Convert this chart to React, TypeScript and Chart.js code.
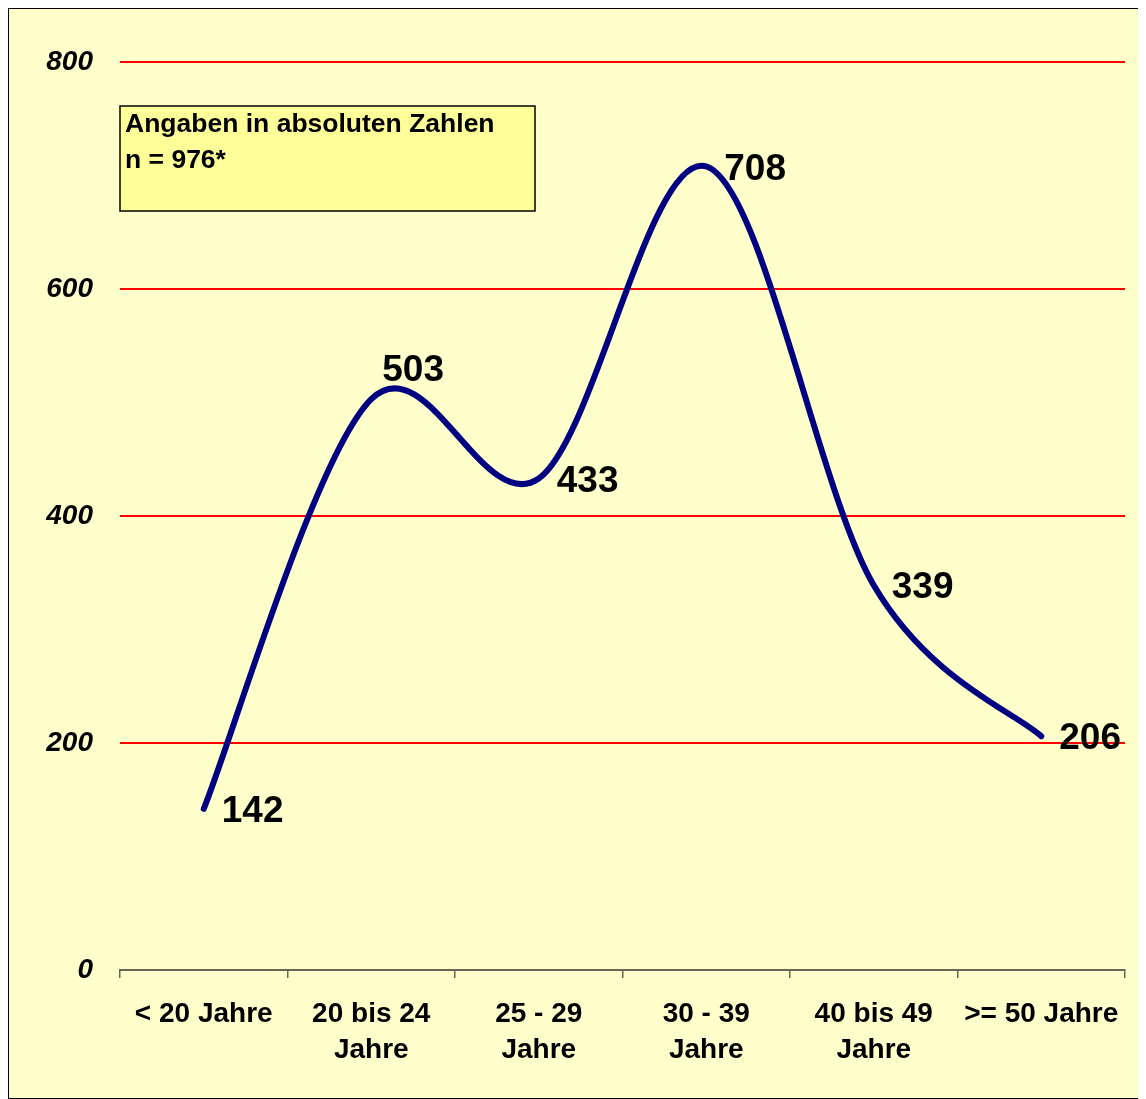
import React, { useEffect, useRef } from "react";
import { Chart, registerables } from "chart.js";

Chart.register(...registerables);

const categories: string[][] = [
  ["< 20 Jahre"],
  ["20 bis 24", "Jahre"],
  ["25 - 29", "Jahre"],
  ["30 - 39", "Jahre"],
  ["40 bis 49", "Jahre"],
  [">= 50 Jahre"],
];
const values: number[] = [142, 503, 433, 708, 339, 206];
const labelPlacement: string[] = ["right", "above", "right", "right", "right", "right"];
const yTicks: number[] = [0, 200, 400, 600, 800];
const noteLines: string[] = ["Angaben in absoluten Zahlen", "n = 976*"];

const FONT = "'Liberation Sans', Arial, sans-serif";

// Excel-like smoothing (Catmull-Rom, 1/6 handles)
const smoothPlugin = {
  id: "excelSmooth",
  beforeDatasetsDraw(chart: any) {
    const meta = chart.getDatasetMeta(0);
    const line = meta.dataset;
    if (!line) return;
    line.updateControlPoints(chart.chartArea, "x");
    const pts = meta.data;
    const k = 1 / 6;
    for (let i = 0; i < pts.length; i++) {
      const p = pts[i];
      const prev = pts[i - 1] || p;
      const next = pts[i + 1] || p;
      const dx = (next.x - prev.x) * k;
      const dy = (next.y - prev.y) * k;
      p.cp1x = p.x - dx;
      p.cp1y = p.y - dy;
      p.cp2x = p.x + dx;
      p.cp2y = p.y + dy;
    }
  },
};

const decorPlugin = {
  id: "decor",
  beforeDraw(chart: any) {
    const { ctx, width, height } = chart;
    ctx.save();
    ctx.fillStyle = "#FFFFCC";
    ctx.fillRect(0, 0, width, height);
    ctx.strokeStyle = "#000000";
    ctx.lineWidth = 1;
    ctx.strokeRect(0.5, 0.5, width - 1, height - 1);
    ctx.restore();
  },
  afterDraw(chart: any) {
    const { ctx } = chart;
    ctx.save();
    ctx.fillStyle = "#FFFF99";
    ctx.fillRect(112, 98, 415, 105);
    ctx.strokeStyle = "#000000";
    ctx.lineWidth = 1.5;
    ctx.strokeRect(112, 98, 415, 105);
    ctx.fillStyle = "#000000";
    ctx.font = `bold 26.5px ${FONT}`;
    ctx.textAlign = "left";
    ctx.textBaseline = "alphabetic";
    ctx.fillText(noteLines[0], 117, 124);
    ctx.fillText(noteLines[1], 117, 160);
    ctx.restore();
  },
  afterDatasetsDraw(chart: any) {
    const { ctx } = chart;
    const meta = chart.getDatasetMeta(0);
    ctx.save();
    ctx.fillStyle = "#000000";
    ctx.font = `bold 37px ${FONT}`;
    ctx.textBaseline = "middle";
    ctx.textAlign = "left";
    meta.data.forEach((pt: any, i: number) => {
      const v = values[i];
      if (labelPlacement[i] === "above") {
        ctx.fillText(String(v), pt.x + 11, pt.y - 28);
      } else {
        ctx.fillText(String(v), pt.x + 18, pt.y + 3);
      }
    });
    ctx.restore();
  },
};

export default function App() {
  const ref = useRef<HTMLCanvasElement | null>(null);
  useEffect(() => {
    if (!ref.current) return;
    const chart = new Chart(ref.current, {
      type: "line",
      data: {
        labels: categories,
        datasets: [
          {
            data: values,
            borderColor: "#000080",
            borderWidth: 6,
            pointRadius: 0,
            tension: 0.4,
            borderCapStyle: "round",
            borderJoinStyle: "round",
            fill: false,
          },
        ],
      },
      options: {
        responsive: false,
        animation: false,
        devicePixelRatio: 1,
        layout: { padding: { top: 54, right: 21, left: 0, bottom: 0 } },
        plugins: { legend: { display: false }, tooltip: { enabled: false } },
        scales: {
          x: {
            type: "category",
            offset: true,
            grid: {
              display: true,
              offset: true,
              drawOnChartArea: false,
              drawTicks: true,
              tickLength: 8,
              color: "#666655",
              lineWidth: 1.5,
            },
            border: { display: true, color: "#666655", width: 2 },
            ticks: {
              color: "#000000",
              font: { family: FONT, size: 28, weight: "bold", lineHeight: 1.286 },
              padding: 18,
              maxRotation: 0,
              autoSkip: false,
            },
            afterFit: (scale: any) => {
              scale.height = 129;
            },
          },
          y: {
            min: 0,
            max: 800,
            afterBuildTicks: (scale: any) => {
              scale.ticks = yTicks.map((v) => ({ value: v }));
            },
            grid: {
              drawTicks: false,
              color: (c: any) => (c.tick && c.tick.value === 0 ? "rgba(0,0,0,0)" : "#FF0000"),
              lineWidth: 2,
            },
            border: { display: false },
            ticks: {
              color: "#000000",
              font: { family: FONT, size: 28, weight: "bold", style: "italic" },
              padding: 27,
            },
            afterFit: (scale: any) => {
              scale.width = 112;
            },
          },
        },
      },
      plugins: [smoothPlugin, decorPlugin],
    } as any);
    return () => chart.destroy();
  }, []);
  return (
    <canvas
      ref={ref}
      width={1138}
      height={1091}
      style={{ display: "block", width: 1138, height: 1091 }}
    />
  );
}
